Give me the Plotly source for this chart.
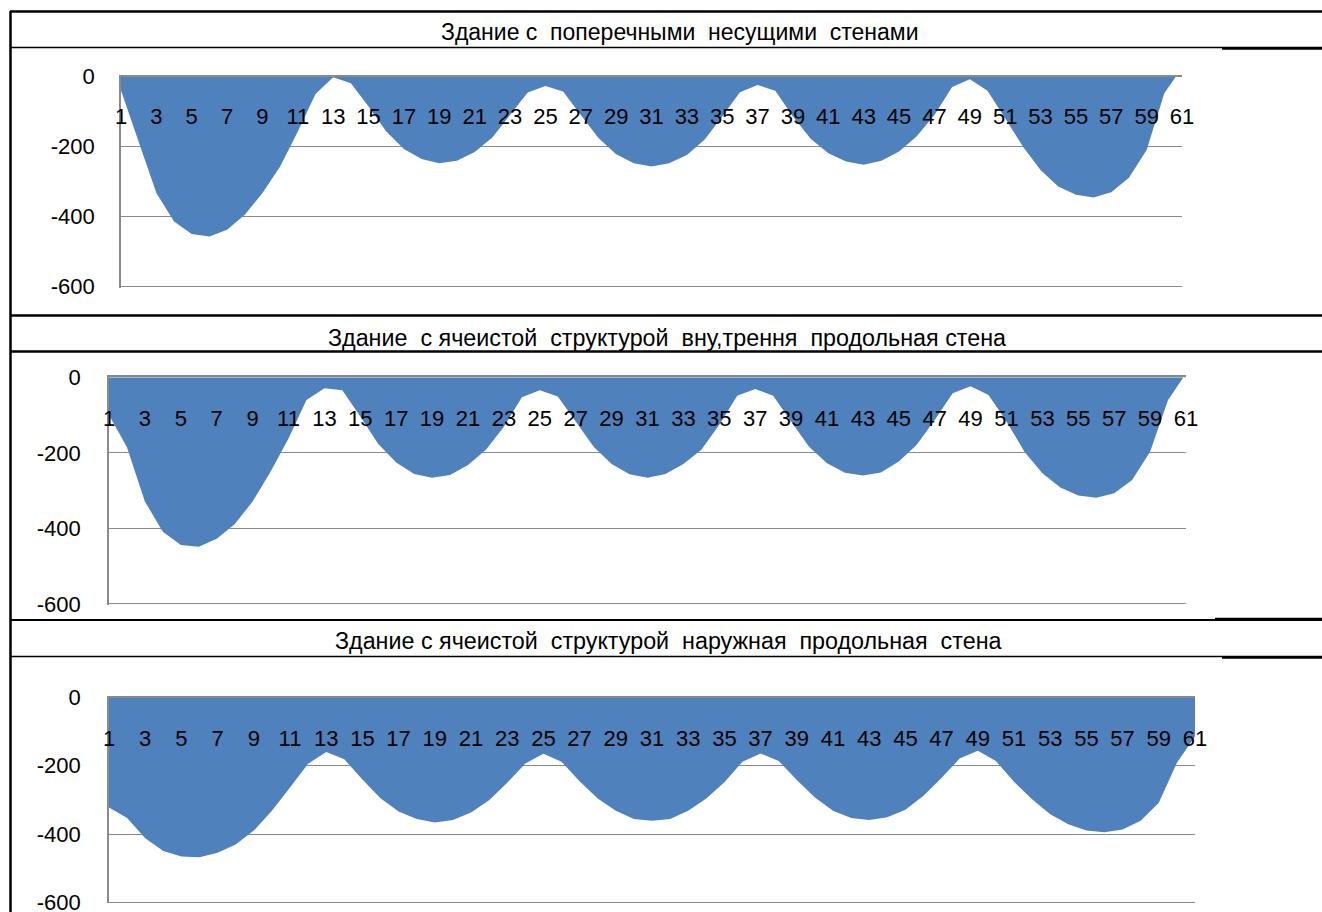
import plotly.graph_objects as go

# ---------------- data ----------------
categories = list(range(1, 62))
tick_labels = [str(c) for c in categories[::2]]

titles = [
    "Здание с  поперечными  несущими  стенами",
    "Здание  с ячеистой  структурой  вну,трення  продольная стена",
    "Здание с ячеистой  структурой  наружная  продольная  стена",
]

transverse_walls = [
    -40, -186, -333, -414, -450, -457, -438, -395, -333, -257,
    -157, -50, -2, -19, -86, -157, -207, -236, -248, -241,
    -216, -174, -110, -46, -27, -43, -110, -176, -222, -248,
    -257, -248, -224, -181, -114, -45, -24, -41, -114, -178,
    -219, -243, -252, -241, -214, -171, -110, -30, -8, -41,
    -119, -200, -267, -314, -338, -346, -331, -289, -210, -48,
    25,
]

cellular_inner_wall = [
    -100, -185, -329, -409, -444, -449, -428, -389, -329, -250,
    -162, -60, -29, -34, -104, -177, -226, -256, -266, -259,
    -232, -192, -131, -53, -34, -51, -117, -184, -230, -257,
    -266, -256, -230, -192, -126, -49, -31, -49, -117, -184,
    -228, -253, -260, -252, -223, -179, -113, -42, -24, -47,
    -117, -197, -254, -292, -313, -319, -307, -272, -197, -60,
    10,
]

cellular_outer_wall = [
    -322, -353, -412, -450, -466, -468, -455, -431, -390, -332,
    -264, -194, -160, -181, -240, -295, -334, -356, -366, -359,
    -337, -301, -250, -193, -165, -188, -245, -296, -332, -356,
    -361, -356, -332, -296, -248, -188, -164, -186, -242, -293,
    -332, -353, -359, -351, -329, -288, -235, -179, -156, -186,
    -247, -298, -342, -371, -390, -395, -387, -361, -308, -191,
    -114,
]

y_ticks = [0, -200, -400, -600]

# ---------------- layout constants ----------------
W, H = 1322, 912
FONT = "Liberation Sans, Arial, sans-serif"
FILL = "#4F81BD"
GRID = "#8a8a8a"
Y_MIN = -603  # a hair below -600 so the bottom gridline is drawn


def px_x(p):
    return p / W


def px_y(p):
    return 1 - p / H


# plot areas in pixels: (left, right, y of value 0, y of value -600)
areas = [
    (121, 1182, 76.5, 286.5),
    (109, 1186, 377.3, 603.8),
    (109, 1195, 697.5, 902.3),
]
y_standoff = [20, 22, 22]
x_standoff = [34, 35, 35]
title_pos = [(680, 32), (667, 338), (668, 641)]
title_size = [23, 23.3, 23.3]

series = [transverse_walls, cellular_inner_wall, cellular_outer_wall]

fig = go.Figure()
layout = dict(
    width=W, height=H,
    margin=dict(l=0, r=0, t=0, b=0),
    paper_bgcolor="white", plot_bgcolor="white",
    showlegend=False, template="none",
    font=dict(family=FONT, size=22, color="black"),
)

for i, (vals, (l, r, t, b)) in enumerate(zip(series, areas)):
    n = "" if i == 0 else str(i + 1)
    bottom = t + (b - t) * (-Y_MIN) / 600.0
    fig.add_trace(go.Scatter(
        x=categories, y=vals, mode="lines", fill="tozeroy",
        fillcolor=FILL, line=dict(width=0, color=FILL),
        xaxis="x" + n, yaxis="y" + n, hoverinfo="x+y",
    ))
    layout["xaxis" + n] = dict(
        domain=[px_x(l), px_x(r)], range=[1, 61], anchor="y" + n,
        tickmode="array", tickvals=categories[::2], ticktext=tick_labels,
        side="top", ticklabelposition="inside", ticklabeloverflow="allow",
        ticklabelstandoff=x_standoff[i], ticks="",
        showline=True, linecolor=GRID, linewidth=1.5,
        showgrid=False, zeroline=False, layer="above traces",
        tickfont=dict(family=FONT, size=22, color="black"),
        automargin=False, fixedrange=True,
    )
    layout["yaxis" + n] = dict(
        domain=[max(0, px_y(bottom)), px_y(t)], range=[Y_MIN, 0], anchor="x" + n,
        tickmode="array", tickvals=y_ticks, ticktext=[str(v) for v in y_ticks],
        ticks="", ticklabelstandoff=y_standoff[i], ticklabeloverflow="allow",
        showgrid=True, gridcolor=GRID, gridwidth=1.3,
        showline=True, linecolor=GRID, linewidth=1.5, zeroline=False,
        tickfont=dict(family=FONT, size=22, color="black"),
        automargin=False, fixedrange=True,
    )

annotations = []
for txt, (cx, cy), fs in zip(titles, title_pos, title_size):
    annotations.append(dict(
        text=txt.replace("  ", "\u00a0 "), xref="paper", yref="paper",
        x=px_x(cx), y=px_y(cy), xanchor="center", yanchor="middle",
        showarrow=False, font=dict(family=FONT, size=fs, color="black"),
    ))
layout["annotations"] = annotations

# frame lines (table borders around the charts)
shapes = []
for yy, w in [(11.5, 2.5), (47.5, 1.5), (315.5, 2.5), (351.5, 2.5), (620, 2), (656.5, 1.5)]:
    shapes.append(dict(type="line", xref="paper", yref="paper",
                       x0=px_x(10), x1=1, y0=px_y(yy), y1=px_y(yy),
                       line=dict(color="black", width=w)))
for yy, x0 in [(48.5, 1222), (657.5, 1222), (619, 1215)]:
    shapes.append(dict(type="line", xref="paper", yref="paper",
                       x0=px_x(x0), x1=1, y0=px_y(yy), y1=px_y(yy),
                       line=dict(color="black", width=2.5)))
shapes.append(dict(type="line", xref="paper", yref="paper",
                   x0=px_x(10.5), x1=px_x(10.5), y0=px_y(11), y1=0,
                   line=dict(color="black", width=2.5)))
layout["shapes"] = shapes

fig.update_layout(**layout)
fig.write_html("out.html", config={"displayModeBar": False},
               post_script="document.body.style.margin='0';")
